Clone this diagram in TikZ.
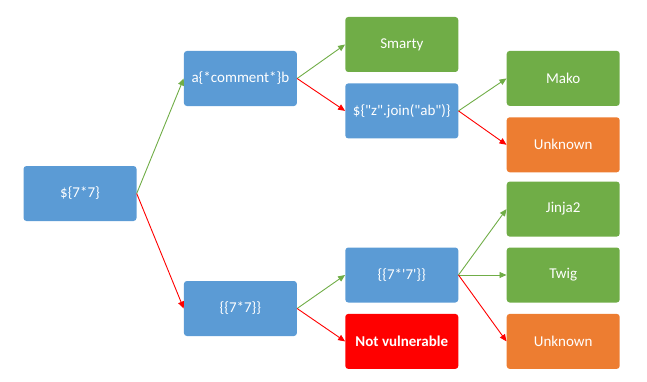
\documentclass[tikz,border=0pt]{standalone}
\usepackage{fontspec}
\newfontfamily\boxfont{Carlito}
\usepackage{xcolor}
\usetikzlibrary{arrows.meta, positioning}
\definecolor{probeblue}{RGB}{91,155,213}
\definecolor{engineGreen}{RGB}{112,173,71}
\definecolor{unkorange}{RGB}{237,125,49}
\definecolor{failred}{RGB}{255,0,0}

\begin{document}
\begin{tikzpicture}[
    x=1pt, y=1pt,
    font=\boxfont\fontsize{15}{18}\selectfont,
    basenode/.style={rounded corners=3pt, text=white, align=center, minimum width=113pt, minimum height=55pt, inner sep=2pt},
    probenode/.style={basenode, fill=probeblue},
    enginenode/.style={basenode, fill=engineGreen},
    unknode/.style={basenode, fill=unkorange},
    failnode/.style={basenode, fill=failred, font=\boxfont\bfseries\fontsize{15}{18}\selectfont},
    yesarrow/.style={-{Triangle[length=7pt, width=6pt]}, line width=0.9pt, draw=engineGreen},
    noarrow/.style={-{Triangle[length=7pt, width=6pt]}, line width=0.9pt, draw=failred}
]
\useasboundingbox (0,0) rectangle (647,381);

\node[probenode] (root) at (80,187.5) {\$\{7*7\}};

\node[probenode, right=47pt of root, yshift=115pt] (comment) {a\{*comment*\}b};
\node[probenode, right=47pt of root, yshift=-115pt] (curly) {\{\{7*7\}\}};

\node[enginenode, right=48pt of comment, yshift=34pt] (smarty) {Smarty};
\node[probenode, below=11pt of smarty] (join) {\$\{"z".join("ab")\}};
\node[probenode, right=48pt of curly, yshift=33.5pt] (curlystr) {\{\{7*'7'\}\}};
\node[failnode, below=11pt of curlystr] (notvuln) {Not vulnerable};

\node[enginenode, right=48pt of join, yshift=32.5pt] (mako) {Mako};
\node[unknode, below=11pt of mako] (unkA) {Unknown};
\node[enginenode, right=48pt of curlystr] (twig) {Twig};
\node[enginenode, above=10.5pt of twig] (jinja) {Jinja2};
\node[unknode, below=11pt of twig] (unkB) {Unknown};

\draw[yesarrow] (root.east) -- (comment.west);
\draw[noarrow] (root.east) -- (curly.west);

\draw[yesarrow] (comment.east) -- (smarty.west);
\draw[noarrow] (comment.east) -- (join.west);
\draw[yesarrow] (join.east) -- (mako.west);
\draw[noarrow] (join.east) -- (unkA.west);

\draw[yesarrow] (curly.east) -- (curlystr.west);
\draw[noarrow] (curly.east) -- (notvuln.west);
\draw[yesarrow] (curlystr.east) -- (jinja.west);
\draw[yesarrow] (curlystr.east) -- (twig.west);
\draw[noarrow] (curlystr.east) -- (unkB.west);

\end{tikzpicture}
\end{document}
